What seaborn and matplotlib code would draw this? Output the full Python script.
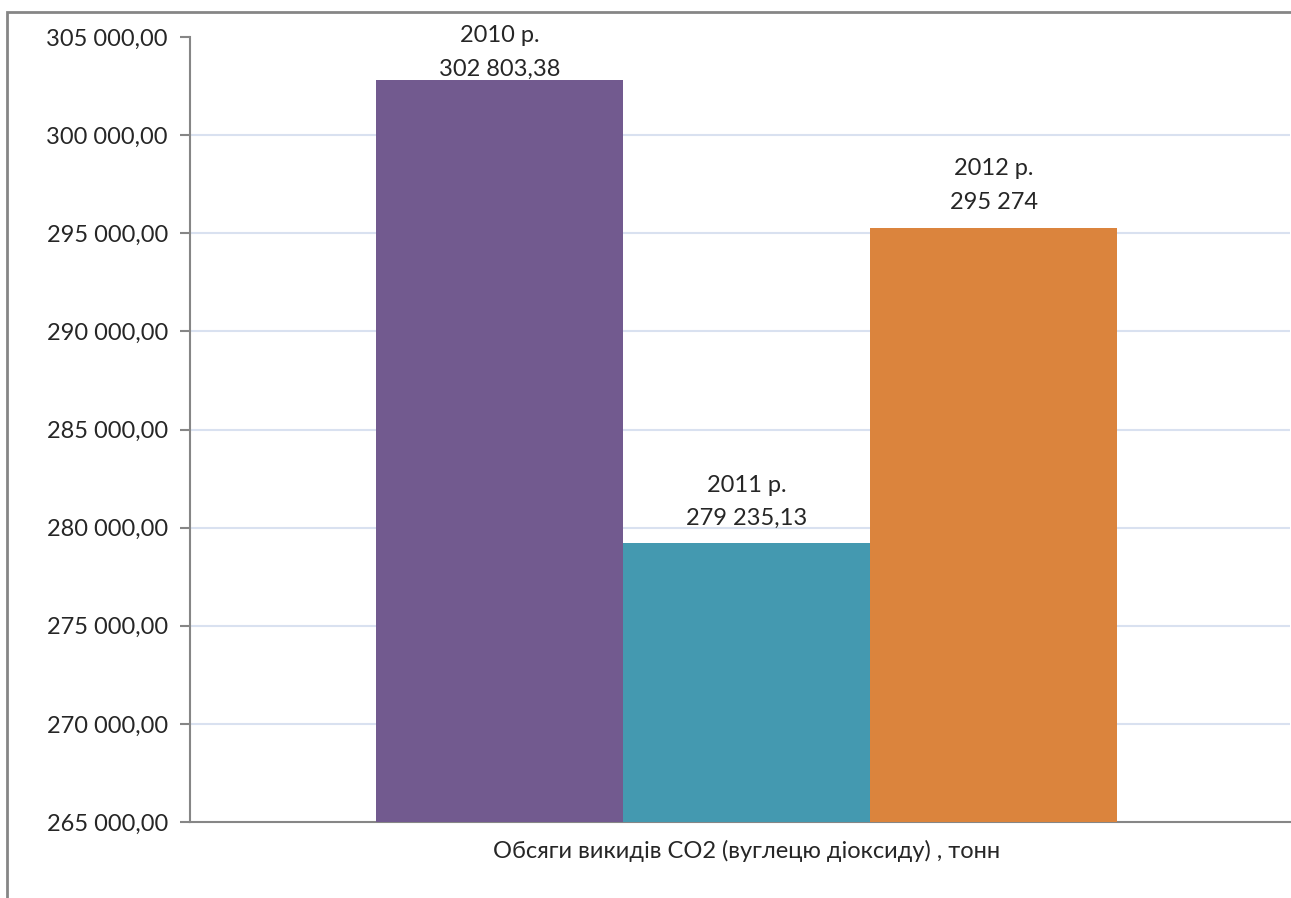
import numpy as np
import pandas as pd
import matplotlib
matplotlib.use("Agg")
import matplotlib.pyplot as plt
import seaborn as sns
from matplotlib.patches import Rectangle
from matplotlib.ticker import FuncFormatter, MultipleLocator, FixedLocator

# data
years = ["2010 р.", "2011 р.", "2012 р."]
values = [302803.38, 279235.13, 295274.0]
value_labels = ["302 803,38", "279 235,13", "295 274"]
category = "Обсяги викидів CO2 (вуглецю діоксиду) , тонн"
colors = ["#725A8F", "#4499B0", "#DB843D"]
y_min, y_max, y_step = 265000, 305000, 5000

df = pd.DataFrame({"cat": [category] * 3, "year": years, "value": values})

sns.set_style("white")
plt.rcParams['font.family'] = ['Lato', 'DejaVu Sans']

fig = plt.figure(figsize=(12.91, 8.98), dpi=100)
ax = fig.add_axes([190 / 1291, 1 - 822 / 898, 1100 / 1291, (822 - 37) / 898])

sns.barplot(data=df, x="cat", y="value", hue="year", palette=colors,
            width=0.674, saturation=1, legend=False, linewidth=0, ax=ax, zorder=3)

ax.set_ylim(y_min, y_max)
ax.set_xlim(-0.506, 0.494)
ax.yaxis.set_major_locator(MultipleLocator(y_step))
ax.yaxis.set_major_formatter(FuncFormatter(
    lambda v, p: f"{v:,.2f}".replace(",", " ").replace(".", ",")))
# gridlines on inner ticks only (no line at the top of the axis)
ax.yaxis.remove_overlapping_locs = False
ax.yaxis.set_minor_locator(FixedLocator(np.arange(y_min + y_step, y_max, y_step)))
ax.grid(axis="y", which="minor", color="#D9E1F0", linewidth=1.5, zorder=0)
ax.grid(axis="y", which="major", visible=False)
ax.set_axisbelow(True)

for s in ["top", "right"]:
    ax.spines[s].set_visible(False)
for s in ["left", "bottom"]:
    ax.spines[s].set_color("#868686")
    ax.spines[s].set_linewidth(1.5)

ax.tick_params(axis="y", which="major", direction="out", length=7, width=1.5,
               color="#868686", labelsize=17, pad=9, left=True)
ax.tick_params(axis="y", which="minor", length=0)
ax.tick_params(axis="x", length=0, labelsize=17, pad=13)
ax.set_xlabel("")
ax.set_ylabel("")

# value labels above bars (the first one is pushed down against the chart top)
label_offsets = [0.5, 10, 11]
for bar, yr, lab, off in zip(ax.patches, years, value_labels, label_offsets):
    ax.annotate(f"{yr}\n{lab}", (bar.get_x() + bar.get_width() / 2, bar.get_height()),
                xytext=(0, off), textcoords="offset points", ha="center", va="bottom",
                fontsize=17, linespacing=1.72, zorder=5)

# outer chart frame (left and top visible)
fig.patches.append(Rectangle((7 / 1291, -0.2), 1.5, 1.2 + (1 - 12 / 898) - 1,
                             transform=fig.transFigure, fill=False,
                             edgecolor="#868686", linewidth=2))

fig.savefig("out.png", dpi=100)
